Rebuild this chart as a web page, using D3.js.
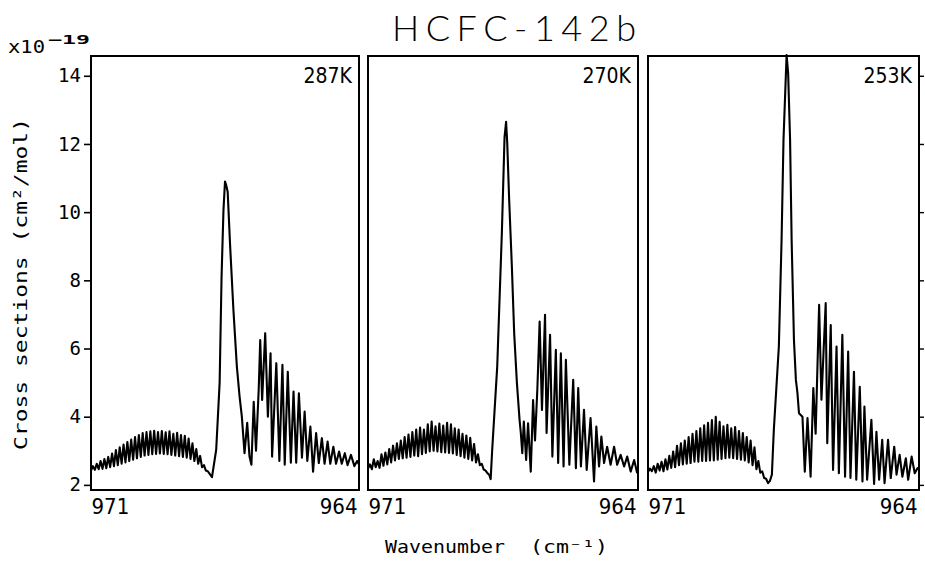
<!DOCTYPE html>
<html>
<head>
<meta charset="utf-8">
<script src="https://cdn.jsdelivr.net/npm/d3@7/dist/d3.min.js"></script>
<style>
  body { margin: 0; background: #fff; }
  svg { display: block; }
</style>
</head>
<body>
<script>
// temperatures, one panel each
const temps = ['287K', '270K', '253K'];
const xTicks = [971, 964];
const yTicks = [2, 4, 6, 8, 10, 12, 14];

// cross sections (x1e-19 cm2/mol), [wavenumber, value]
const spec287 = [
  [971.00,2.42],[970.95,2.55],[970.90,2.44],[970.85,2.62],[970.80,2.46],[970.75,2.70],[970.70,2.47],[970.65,2.76],
  [970.60,2.49],[970.55,2.82],[970.50,2.52],[970.45,2.92],[970.40,2.55],[970.35,3.02],[970.30,2.58],[970.25,3.10],
  [970.20,2.62],[970.15,3.18],[970.10,2.66],[970.05,3.26],[970.00,2.70],[969.95,3.33],[969.90,2.74],[969.85,3.40],
  [969.80,2.78],[969.75,3.46],[969.70,2.82],[969.65,3.52],[969.60,2.86],[969.55,3.55],[969.50,2.88],[969.45,3.57],
  [969.40,2.90],[969.35,3.59],[969.30,2.91],[969.25,3.55],[969.20,2.92],[969.15,3.58],[969.10,2.91],[969.05,3.54],
  [969.00,2.90],[968.95,3.57],[968.90,2.88],[968.85,3.50],[968.80,2.86],[968.75,3.53],[968.70,2.84],[968.65,3.46],
  [968.60,2.82],[968.55,3.44],[968.50,2.80],[968.45,3.36],[968.40,2.76],[968.35,3.22],[968.30,2.70],[968.25,3.05],
  [968.20,2.62],[968.15,2.85],[968.10,2.52],[968.05,2.58],[968.00,2.42],[967.95,2.40],[967.90,2.32],[967.84,2.23],
  [967.73,3.03],[967.64,5.00],[967.59,8.10],[967.54,10.06],[967.50,10.90],[967.47,10.80],[967.43,10.60],[967.37,9.10],
  [967.28,7.13],[967.19,5.47],[967.12,4.60],[967.06,4.00],[966.99,2.93],[966.92,3.82],[966.86,2.83],[966.81,2.59],
  [966.75,4.44],[966.69,3.00],[966.62,4.79],[966.58,6.25],[966.53,4.49],[966.45,6.45],[966.38,4.00],[966.31,5.86],
  [966.27,2.83],[966.16,5.57],[966.08,2.70],[966.00,5.52],[965.94,2.59],[965.86,5.32],[965.78,2.65],[965.71,4.74],
  [965.64,2.65],[965.57,4.69],[965.49,2.80],[965.42,4.15],[965.35,2.70],[965.27,3.71],[965.20,2.39],[965.12,3.52],
  [965.05,2.64],[964.97,3.37],[964.90,2.62],[964.82,3.27],[964.75,2.62],[964.67,3.12],[964.60,2.62],[964.52,2.98],
  [964.45,2.62],[964.37,2.93],[964.30,2.58],[964.21,2.88],[964.12,2.55],[964.05,2.70],[964.00,2.60]
];
const spec270 = [
  [971.00,2.48],[970.95,2.60],[970.90,2.46],[970.85,2.75],[970.80,2.52],[970.75,2.70],[970.70,2.50],[970.65,2.90],
  [970.60,2.56],[970.55,2.95],[970.50,2.60],[970.45,3.05],[970.40,2.66],[970.35,3.15],[970.30,2.72],[970.25,3.22],
  [970.20,2.76],[970.15,3.30],[970.10,2.78],[970.05,3.40],[970.00,2.80],[969.95,3.48],[969.90,2.82],[969.85,3.55],
  [969.80,2.86],[969.75,3.62],[969.70,2.84],[969.65,3.68],[969.60,2.90],[969.55,3.62],[969.50,2.94],[969.45,3.78],
  [969.40,2.98],[969.35,3.86],[969.30,3.00],[969.25,3.72],[969.20,2.98],[969.15,3.80],[969.10,2.96],[969.05,3.74],
  [969.00,2.95],[968.95,3.82],[968.90,2.94],[968.85,3.78],[968.80,2.92],[968.75,3.66],[968.70,2.88],[968.65,3.62],
  [968.60,2.84],[968.55,3.50],[968.50,2.80],[968.45,3.45],[968.40,2.76],[968.35,3.38],[968.30,2.72],[968.25,3.20],
  [968.20,2.66],[968.15,2.90],[968.10,2.58],[968.05,2.62],[968.00,2.45],[967.95,2.42],[967.90,2.34],[967.85,2.28],
  [967.82,2.17],[967.78,3.03],[967.65,5.47],[967.62,6.45],[967.53,9.38],[967.46,12.20],[967.42,12.65],[967.39,12.02],
  [967.34,10.36],[967.27,8.40],[967.21,6.45],[967.14,5.00],[967.07,3.90],[967.04,3.55],[967.00,2.93],[966.96,3.86],
  [966.90,2.73],[966.85,3.81],[966.78,2.39],[966.72,4.49],[966.67,3.30],[966.61,4.79],[966.55,6.79],[966.49,4.20],
  [966.41,6.99],[966.37,3.52],[966.28,6.40],[966.22,2.83],[966.13,5.96],[966.07,2.64],[966.00,5.86],[965.93,2.54],
  [965.87,5.67],[965.78,2.59],[965.68,5.08],[965.61,2.49],[965.55,4.84],[965.48,2.54],[965.40,4.20],[965.33,2.44],
  [965.23,3.96],[965.14,2.10],[965.08,3.71],[965.01,2.54],[964.95,3.42],[964.88,2.64],[964.80,3.12],[964.71,2.59],
  [964.62,3.12],[964.54,2.59],[964.45,2.88],[964.36,2.54],[964.28,2.83],[964.19,2.39],[964.10,2.73],[964.02,2.34]
];
const spec253 = [
  [971.00,2.38],[970.95,2.48],[970.90,2.40],[970.85,2.55],[970.80,2.36],[970.75,2.62],[970.70,2.42],[970.65,2.68],
  [970.60,2.40],[970.55,2.75],[970.50,2.45],[970.45,2.85],[970.40,2.50],[970.35,2.98],[970.30,2.52],[970.25,3.15],
  [970.20,2.58],[970.15,3.22],[970.10,2.60],[970.05,3.30],[970.00,2.62],[969.95,3.40],[969.90,2.64],[969.85,3.50],
  [969.80,2.68],[969.75,3.58],[969.70,2.68],[969.65,3.66],[969.60,2.70],[969.55,3.75],[969.50,2.70],[969.45,3.82],
  [969.40,2.72],[969.35,3.90],[969.30,2.72],[969.25,4.00],[969.20,2.74],[969.15,3.85],[969.10,2.76],[969.05,3.72],
  [969.00,2.78],[968.95,3.76],[968.90,2.80],[968.85,3.66],[968.80,2.78],[968.75,3.70],[968.70,2.76],[968.65,3.58],
  [968.60,2.74],[968.55,3.52],[968.50,2.72],[968.45,3.40],[968.40,2.66],[968.35,3.30],[968.30,2.58],[968.25,3.10],
  [968.20,2.46],[968.15,2.70],[968.10,2.36],[968.05,2.40],[968.00,2.20],[967.95,2.18],[967.90,2.05],[967.85,2.12],
  [967.80,2.30],[967.75,3.61],[967.62,6.06],[967.55,9.18],[967.50,12.12],[967.42,14.61],[967.38,14.07],[967.33,12.12],
  [967.29,9.18],[967.23,6.25],[967.18,5.08],[967.14,4.70],[967.10,4.10],[967.01,4.00],[966.95,2.39],[966.88,3.96],
  [966.80,2.24],[966.73,4.84],[966.67,3.50],[966.58,7.28],[966.52,4.50],[966.41,7.33],[966.37,3.22],[966.28,6.69],
  [966.22,2.44],[966.13,6.06],[966.07,2.34],[965.98,6.40],[965.91,2.24],[965.83,5.91],[965.77,2.20],[965.68,5.32],
  [965.62,2.15],[965.53,4.88],[965.46,2.10],[965.41,4.30],[965.34,2.15],[965.23,3.91],[965.16,2.03],[965.10,3.56],
  [965.03,2.15],[964.95,3.32],[964.89,2.05],[964.80,3.32],[964.73,2.20],[964.64,3.12],[964.58,2.30],[964.50,2.88],
  [964.43,2.24],[964.34,2.78],[964.28,2.15],[964.19,2.83],[964.11,2.34],[964.04,2.49],[964.00,2.45]
];
const spectra = [spec287, spec270, spec253];

const width = 925, height = 561;
const plotTop = 56, plotBottom = 490;
// left/right pixel edges of the three panels
const panelEdges = [[91, 359], [368, 638], [648, 919]];

const svg = d3.select('body').append('svg')
  .attr('width', width)
  .attr('height', height)
  .attr('viewBox', `0 0 ${width} ${height}`);

svg.append('rect').attr('width', width).attr('height', height).attr('fill', '#fff');

const y = d3.scaleLinear().domain([1.85, 14.58]).range([plotBottom, plotTop]);

const mono = '"DejaVu Sans Mono", monospace';
const narrow = '"Liberation Sans Narrow", "DejaVu Sans Condensed", "DejaVu Sans", sans-serif';

panelEdges.forEach(([x0, x1], i) => {
  const x = d3.scaleLinear().domain([xTicks[0], xTicks[1]]).range([x0, x1]);

  const line = d3.line()
    .x(d => x(d[0]))
    .y(d => y(d[1]));

  svg.append('path')
    .datum(spectra[i])
    .attr('d', line)
    .attr('fill', 'none')
    .attr('stroke', '#000')
    .attr('stroke-width', 2.1)
    .attr('stroke-linejoin', 'round');

  // panel frame
  svg.append('rect')
    .attr('x', x0).attr('y', plotTop)
    .attr('width', x1 - x0).attr('height', plotBottom - plotTop)
    .attr('fill', 'none')
    .attr('stroke', '#000')
    .attr('stroke-width', 2);

  // x labels: first at left edge, last at right edge
  const xAxis = svg.append('g')
    .attr('transform', `translate(0,${plotBottom})`)
    .call(d3.axisBottom(x).tickValues(xTicks).tickSize(0).tickPadding(8).tickFormat(d3.format('d')));
  xAxis.select('.domain').remove();
  xAxis.selectAll('text')
    .attr('text-anchor', (d, j) => j === 0 ? 'start' : 'end')
    .attr('dx', (d, j) => j === 0 ? 0 : -2)
    .attr('font-family', narrow)
    .attr('font-size', 22)
    .attr('fill', '#000');

  // temperature label
  svg.append('text')
    .attr('x', x1 - 7)
    .attr('y', 83)
    .attr('text-anchor', 'end')
    .attr('font-family', narrow)
    .attr('font-size', 21)
    .text(temps[i]);

  if (i === 0) {
    const yAxis = svg.append('g')
      .attr('transform', `translate(${x0},0)`)
      .call(d3.axisLeft(y).tickValues(yTicks).tickSize(7).tickPadding(3));
    yAxis.select('.domain').remove();
    yAxis.selectAll('line').attr('stroke', '#000').attr('stroke-width', 1.6);
    yAxis.selectAll('text')
      .attr('font-family', mono)
      .attr('font-size', 19)
      .attr('fill', '#000');
  }
  if (i === 2) {
    const rAxis = svg.append('g')
      .attr('transform', `translate(${x1},0)`)
      .call(d3.axisRight(y).tickValues(yTicks).tickSize(5).tickFormat(''));
    rAxis.select('.domain').remove();
    rAxis.selectAll('line').attr('stroke', '#000').attr('stroke-width', 1.4);
  }
});

// title
svg.append('text')
  .attr('x', 392)
  .attr('y', 41)
  .attr('font-family', 'Lato, "DejaVu Sans", sans-serif')
  .attr('font-weight', 300)
  .attr('font-size', 36)
  .attr('textLength', 244)
  .attr('lengthAdjust', 'spacing')
  .text('HCFC-142b');

// exponent
svg.append('text')
  .attr('x', 8).attr('y', 53)
  .attr('font-family', mono)
  .attr('font-size', 17)
  .attr('textLength', 37)
  .attr('lengthAdjust', 'spacingAndGlyphs')
  .text('x10');
svg.append('text')
  .attr('x', 48).attr('y', 44)
  .attr('font-family', mono)
  .attr('font-size', 12)
  .attr('font-weight', 'bold')
  .attr('textLength', 42)
  .attr('lengthAdjust', 'spacingAndGlyphs')
  .text('\u221219');

// y title
svg.append('text')
  .attr('transform', 'translate(27,284) rotate(-90)')
  .attr('text-anchor', 'middle')
  .attr('font-family', mono)
  .attr('font-size', 18)
  .attr('textLength', 332)
  .attr('lengthAdjust', 'spacingAndGlyphs')
  .text('Cross sections (cm\u00b2/mol)');

// x title
svg.append('text')
  .attr('x', 385).attr('y', 553)
  .attr('font-family', mono)
  .attr('font-size', 17)
  .attr('textLength', 120)
  .attr('lengthAdjust', 'spacingAndGlyphs')
  .text('Wavenumber');
svg.append('text')
  .attr('x', 530).attr('y', 553)
  .attr('font-family', mono)
  .attr('font-size', 17)
  .attr('textLength', 78)
  .attr('lengthAdjust', 'spacingAndGlyphs')
  .text('(cm\u207b\u00b9)');
</script>
</body>
</html>
